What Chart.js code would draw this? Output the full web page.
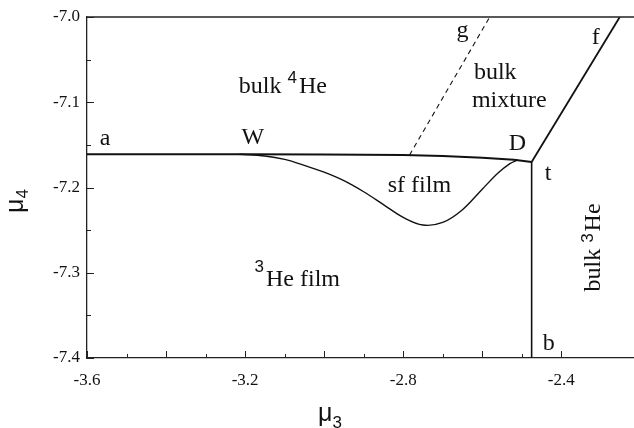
<!DOCTYPE html>
<html>
<head>
<meta charset="utf-8">
<script src="https://cdn.jsdelivr.net/npm/chart.js@4.4.1/dist/chart.umd.min.js"></script>
<style>
  html, body { margin: 0; padding: 0; background: #fff; overflow: hidden; }
  #wrap { position: relative; width: 634px; height: 428px; }
</style>
</head>
<body>
<div id="wrap"><canvas id="c" width="634" height="428"></canvas></div>
<script>
// Phase boundaries in the (mu3, mu4) plane, each point is [mu3, mu4]
const lineAD = [[-3.6, -7.161], [-3.2, -7.161], [-3.0, -7.1612], [-2.8, -7.162],
                [-2.7, -7.163], [-2.6, -7.165], [-2.52, -7.1675], [-2.475, -7.170]];
const sfFilmEdge = [[-3.214, -7.161], [-3.15, -7.163], [-3.10, -7.167], [-3.05, -7.174],
                    [-3.00, -7.182], [-2.95, -7.192], [-2.90, -7.205], [-2.85, -7.220],
                    [-2.80, -7.235], [-2.75, -7.244], [-2.70, -7.241], [-2.65, -7.226],
                    [-2.60, -7.202], [-2.56, -7.183], [-2.53, -7.172], [-2.51, -7.1675]];
const lineTB = [[-2.475, -7.170], [-2.475, -7.4]];
const lineTF = [[-2.475, -7.170], [-2.252, -7.0]];
const lineG = [[-2.784, -7.162], [-2.581, -7.0]];

// Axis ranges and labelled ticks
const xRange = [-3.6, -2.216];
const yRange = [-7.4, -7.0];
const xTickLabels = [-3.6, -3.2, -2.8, -2.4];
const yTickLabels = [-7.0, -7.1, -7.2, -7.3, -7.4];

// Region and point names, anchored in data coordinates (left edge, baseline)
const SERIF = '24px "Liberation Serif"';
const SUP = '17px "Liberation Sans"';
const regionLabels = [
  { at: [-3.568, -7.150], parts: [['a', SERIF, 0]] },
  { at: [-3.209, -7.149], parts: [['W', SERIF, 0]] },
  { at: [-3.216, -7.089], parts: [['bulk ', SERIF, 0], ['4', SUP, -10], ['He', SERIF, 0]] },
  { at: [-2.665, -7.023], parts: [['g', SERIF, 0]] },
  { at: [-2.323, -7.032], parts: [['f', SERIF, 0]] },
  { at: [-2.621, -7.073], parts: [['bulk', SERIF, 0]] },
  { at: [-2.626, -7.105], parts: [['mixture', SERIF, 0]] },
  { at: [-2.533, -7.156], parts: [['D', SERIF, 0]] },
  { at: [-2.442, -7.191], parts: [['t', SERIF, 0]] },
  { at: [-2.839, -7.205], parts: [['sf film', SERIF, 0]] },
  { at: [-3.176, -7.316], parts: [['3', SUP, -14], ['He film', SERIF, 0]] },
  { at: [-2.447, -7.391], parts: [['b', SERIF, 0]] },
  { at: [-2.302, -7.322], rotate: true, parts: [['bulk ', SERIF, 0], ['3', SUP, -7], ['He', SERIF, 0]] }
];

const toPts = arr => arr.map(p => ({ x: p[0], y: p[1] }));
const onStep = (v, list) => list.some(t => Math.abs(t - v) < 1e-6);

function drawParts(ctx, parts) {
  let x = 0;
  for (const [t, font, dy] of parts) {
    ctx.font = font;
    ctx.fillText(t, x, dy);
    x += ctx.measureText(t).width + (font === SUP ? 2 : 0);
  }
}

const annotate = {
  id: 'annotate',
  afterDraw(chart) {
    const { ctx, chartArea: a, scales: { x, y } } = chart;
    ctx.save();
    ctx.strokeStyle = '#222';
    ctx.lineWidth = 1.3;
    // top frame line
    ctx.beginPath();
    ctx.moveTo(a.left, a.top);
    ctx.lineTo(a.right, a.top);
    ctx.stroke();
    // inward tick marks
    ctx.lineWidth = 1;
    ctx.beginPath();
    x.ticks.forEach(t => {
      const k = Math.round(t.value * 10);
      if (Math.abs(t.value * 10 - k) > 1e-6) return;
      const px = Math.round(x.getPixelForValue(t.value)) + 0.5;
      const len = (k % 2 === 0) ? 7 : 4;
      ctx.moveTo(px, a.bottom);
      ctx.lineTo(px, a.bottom - len);
    });
    y.ticks.forEach(t => {
      const k = Math.round(t.value * 20);
      if (Math.abs(t.value * 20 - k) > 1e-6) return;
      const py = Math.round(y.getPixelForValue(t.value)) + 0.5;
      const len = (k % 2 === 0) ? 7 : 4;
      ctx.moveTo(a.left, py);
      ctx.lineTo(a.left + len, py);
    });
    ctx.stroke();

    // region labels
    ctx.fillStyle = '#111';
    ctx.textBaseline = 'alphabetic';
    ctx.textAlign = 'left';
    regionLabels.forEach(l => {
      ctx.save();
      ctx.translate(x.getPixelForValue(l.at[0]), y.getPixelForValue(l.at[1]));
      if (l.rotate) ctx.rotate(-Math.PI / 2);
      drawParts(ctx, l.parts);
      ctx.restore();
    });

    // axis titles
    ctx.save();
    ctx.translate(318, 421);
    drawParts(ctx, [['\u03bc', '25px "Liberation Sans"', 0], ['3', SUP, 7]]);
    ctx.restore();
    ctx.save();
    ctx.translate(23, 213);
    ctx.rotate(-Math.PI / 2);
    drawParts(ctx, [['\u03bc', '25px "Liberation Sans"', 0], ['4', SUP, 5]]);
    ctx.restore();
    ctx.restore();
  }
};

const lineStyle = { showLine: true, pointRadius: 0, borderColor: '#111', fill: false };

new Chart(document.getElementById('c'), {
  type: 'scatter',
  data: {
    datasets: [
      { ...lineStyle, data: toPts(lineAD), borderWidth: 2 },
      { ...lineStyle, data: toPts(sfFilmEdge), borderWidth: 1.4, tension: 0.35 },
      { ...lineStyle, data: toPts(lineTB), borderWidth: 1.6 },
      { ...lineStyle, data: toPts(lineTF), borderWidth: 1.8 },
      { ...lineStyle, data: toPts(lineG), borderWidth: 1.1, borderDash: [5, 4] }
    ]
  },
  options: {
    responsive: false,
    animation: false,
    devicePixelRatio: 1,
    layout: { padding: { top: 17, right: 0, bottom: 0, left: 0 } },
    plugins: { legend: { display: false }, tooltip: { enabled: false }, title: { display: false } },
    scales: {
      x: {
        type: 'linear',
        min: xRange[0], max: xRange[1],
        afterFit(s) { s.height = 70; s.paddingRight = 0; s.paddingLeft = 0; },
        grid: { display: false, drawTicks: false },
        border: { display: true, color: '#222', width: 1.3 },
        ticks: {
          stepSize: 0.1, autoSkip: false, maxRotation: 0, padding: 12,
          color: '#111', font: { family: 'Liberation Serif', size: 17 },
          callback: v => onStep(v, xTickLabels) ? v.toFixed(1) : ''
        }
      },
      y: {
        type: 'linear',
        min: yRange[0], max: yRange[1],
        afterFit(s) { s.width = 87; s.paddingTop = 0; s.paddingBottom = 0; },
        grid: { display: false, drawTicks: false },
        border: { display: true, color: '#222', width: 1.3 },
        ticks: {
          stepSize: 0.05, autoSkip: false, padding: 7,
          color: '#111', font: { family: 'Liberation Serif', size: 17 },
          callback: v => onStep(v, yTickLabels) ? v.toFixed(1) : ''
        }
      }
    }
  },
  plugins: [annotate]
});
</script>
</body>
</html>
